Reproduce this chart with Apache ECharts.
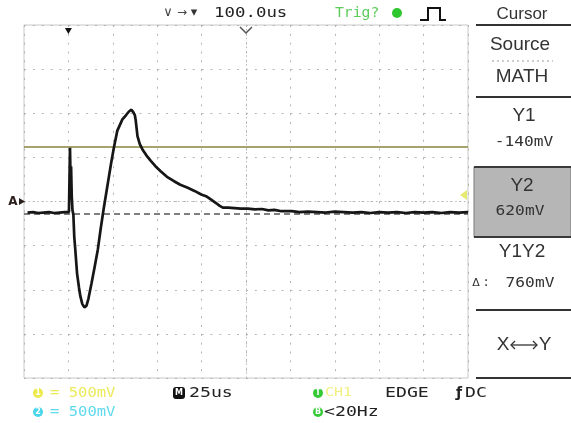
<!DOCTYPE html>
<html><head><meta charset="utf-8">
<script src="https://cdn.jsdelivr.net/npm/echarts@6/dist/echarts.min.js"></script>
<style>html,body{margin:0;padding:0;background:#fff}#c{width:571px;height:423px}</style>
</head><body><div id="c"></div>
<script>
// time (µs, trigger at 0; screen centre at 100.0us) and voltage (V)
const timeUs = [-23, -20, -17, -14, -11, -8, -5, -2, 0.3, 0.9, 1.2, 1.5, 1.9, 2.3, 2.8, 3.3, 3.9, 4.9, 6.0, 6.7,
  7.8, 9.0, 10.2, 11.3, 13.0, 14.8, 16.6, 18.1, 19.8, 21.9, 24.1, 25.6, 27.5, 30.4, 32.5, 34.1, 35.5, 36.6, 37.4, 37.9,
  38.9, 40.2, 41.7, 44.0, 46.4, 49.0, 52.1, 55.5, 59.5, 63.0, 67.2, 71.0, 74.8, 77.5, 80.4, 83.3, 85.2, 87.0, 90.0, 93.5,
  97, 101, 105, 109, 112.6, 116, 120, 125.8, 130, 135, 140, 145, 150, 155, 160, 165, 170, 175, 180, 185,
  190, 195, 200, 205, 210, 215, 220, 225];
const voltsV = [-0.125, -0.12, -0.13, -0.125, -0.12, -0.13, -0.125, -0.12, -0.12, 0.61, 0.25, 0.40, 0.05, -0.10, -0.15, -0.40, -0.55, -0.82, -0.98, -1.07,
  -1.16, -1.20, -1.18, -1.10, -0.93, -0.74, -0.54, -0.32, -0.09, 0.17, 0.44, 0.61, 0.80, 0.93, 0.98, 1.02, 1.04, 1.01, 0.98, 0.92,
  0.74, 0.65, 0.59, 0.52, 0.46, 0.40, 0.34, 0.28, 0.23, 0.19, 0.155, 0.12, 0.08, 0.06, 0.02, -0.02, -0.05, -0.07, -0.07, -0.075,
  -0.08, -0.08, -0.09, -0.085, -0.10, -0.095, -0.11, -0.11, -0.12, -0.115, -0.12, -0.125, -0.115, -0.12, -0.125, -0.12, -0.13, -0.12, -0.125, -0.12,
  -0.13, -0.12, -0.125, -0.12, -0.13, -0.12, -0.125, -0.12];
const cursorY1 = -0.14;   // V
const cursorY2 = 0.62;    // V
const timeMin = -25, timeMax = 225, timePerDiv = 25;
const voltMin = -2, voltMax = 2, voltPerDiv = 0.5;
const triggerTime = 0, centreTime = 100;

const trace = timeUs.map((t, i) => [t, voltsV[i]]);
const chart = echarts.init(document.getElementById('c'), null, {renderer: 'canvas'});
const mono = 'DejaVu Sans Mono';
const sans = 'Liberation Sans';
function mtext(x, y, s, color, opts) {
  opts = opts || {};
  return {type: 'text', x: x, y: y, scaleX: opts.sx || 1.2, z: 10,
    style: {text: s, fill: color, font: (opts.w || 'normal') + ' ' + (opts.fs || 14.5) + 'px "' + (opts.ff || mono) + '"',
      textAlign: opts.align || 'left', textVerticalAlign: 'middle'}};
}
function stext(x, y, s, fs) {
  return {type: 'text', x: x, y: y, z: 10,
    style: {text: s, fill: '#333', font: fs + 'px "' + sans + '"', textAlign: 'center', textVerticalAlign: 'middle'}};
}
function hline(x1, x2, y, w, color, dash) {
  return {type: 'line', z: 10, shape: {x1: x1, y1: y, x2: x2, y2: y},
    style: {stroke: color || '#333', lineWidth: w || 2, lineDash: dash || null}};
}
function dot(x, y, r, color, label) {
  return [{type: 'circle', z: 10, shape: {cx: x, cy: y, r: r}, style: {fill: color}},
    {type: 'text', z: 11, x: x, y: y, style: {text: label, fill: '#fff', font: 'bold 8px "DejaVu Sans"', textAlign: 'center', textVerticalAlign: 'middle'}}];
}
const gridDashX = [2, 44.4 / 5 - 2];
const gridDashY = [2, 44.125 / 5 - 2];
const option = {
  animation: false,
  backgroundColor: '#ffffff',
  grid: {left: 24, top: 25, width: 444, height: 353, show: true, borderColor: '#c8c8c8', borderWidth: 1},
  xAxis: {type: 'value', min: timeMin, max: timeMax, interval: timePerDiv,
    axisLine: {show: false}, axisTick: {show: false}, axisLabel: {show: false},
    splitLine: {show: true, lineStyle: {color: '#b4b4b4', width: 1, type: gridDashY}}},
  yAxis: {type: 'value', min: voltMin, max: voltMax, interval: voltPerDiv,
    axisLine: {show: false}, axisTick: {show: false}, axisLabel: {show: false},
    splitLine: {show: true, lineStyle: {color: '#b4b4b4', width: 1, type: gridDashX}}},
  series: [
    {type: 'line', data: [], silent: true, z: 1,
      markLine: {silent: true, symbol: 'none', label: {show: false},
        data: [
          {yAxis: 0, lineStyle: {color: '#b8b8b8', width: 1, type: [1.5, 2.9]}},
          {xAxis: centreTime, lineStyle: {color: '#b8b8b8', width: 1, type: [1.5, 2.9]}}
        ]}},
    {type: 'line', data: trace, showSymbol: false, z: 5,
      lineStyle: {color: '#161616', width: 2.7}},
    {type: 'line', data: [], z: 4,
      markLine: {silent: true, symbol: 'none', label: {show: false},
        data: [
          {yAxis: cursorY2, lineStyle: {color: '#87863e', width: 1.6, type: 'solid'}},
          {yAxis: cursorY1, lineStyle: {color: '#555555', width: 1.6, type: [6, 4]}}
        ]}}
  ]
};
chart.setOption(option);

const trigX = chart.convertToPixel({xAxisIndex: 0}, triggerTime);
const centreX = chart.convertToPixel({xAxisIndex: 0}, centreTime);
const zeroY = chart.convertToPixel({yAxisIndex: 0}, 0);

let g = [];
// top bar
g.push({type: 'text', x: 168, y: 13, z: 10, style: {text: '∨', fill: '#444', font: '13px "DejaVu Sans"', textAlign: 'center', textVerticalAlign: 'middle'}});
g.push({type: 'text', x: 182, y: 13, z: 10, style: {text: '→', fill: '#444', font: '12px "DejaVu Sans"', textAlign: 'center', textVerticalAlign: 'middle'}});
g.push({type: 'text', x: 194, y: 13, z: 10, style: {text: '▾', fill: '#333', font: '13px "DejaVu Sans"', textAlign: 'center', textVerticalAlign: 'middle'}});
g.push(mtext(214, 13, '100.0us', '#222', {fs: 14.5, sx: 1.2}));
g.push(mtext(335, 13, 'Trig?', '#5ccc5c', {fs: 14, sx: 1.05}));
g.push({type: 'circle', z: 10, shape: {cx: 397, cy: 13, r: 5}, style: {fill: '#2ec72e'}});
g.push({type: 'polyline', z: 10, shape: {points: [[420, 20], [428, 20], [428, 8], [440, 8], [440, 20], [446, 20]]}, style: {stroke: '#111', lineWidth: 2, fill: null}});
// plot markers
g.push({type: 'polygon', z: 10, shape: {points: [[trigX - 3.5, 28], [trigX + 3.5, 28], [trigX, 34]]}, style: {fill: '#111'}});
g.push({type: 'polyline', z: 10, shape: {points: [[centreX - 6, 27], [centreX, 33], [centreX + 6, 27]]}, style: {stroke: '#555', lineWidth: 1.5, fill: null}});
g.push({type: 'text', x: 13, y: zeroY, z: 10, style: {text: 'A', fill: '#2a1f1a', font: 'bold 12px "DejaVu Sans"', textAlign: 'center', textVerticalAlign: 'middle'}});
g.push({type: 'polygon', z: 10, shape: {points: [[19, zeroY - 3.5], [25, zeroY], [19, zeroY + 3.5]]}, style: {fill: '#2a1f1a'}});
g.push({type: 'polygon', z: 10, shape: {points: [[467, 190], [467, 200], [460, 195]]}, style: {fill: '#e6ea70'}});
// right menu
g.push(stext(522, 14, 'Cursor', 17));
g.push(hline(476, 571, 25, 2));
g.push(stext(520, 45, 'Source', 19));
g.push(hline(492, 553, 61, 1, '#999', [2, 3]));
g.push(stext(522, 77, 'MATH', 19));
g.push(hline(476, 571, 97, 2));
g.push(stext(524, 116, 'Y1', 19));
g.push(mtext(524, 142, '-140mV', '#333', {align: 'center', fs: 13.5, sx: 1.2}));
g.push({type: 'rect', z: 9, shape: {x: 474, y: 167, width: 97, height: 70}, style: {fill: '#b6b6b6', stroke: '#7a7a7a', lineWidth: 1}});
g.push(hline(474, 571, 167, 2, '#3a3a3a'));
g.push(hline(474, 571, 237, 2, '#3a3a3a'));
g.push(stext(522, 186, 'Y2', 19));
g.push(mtext(520, 211, '620mV', '#333', {align: 'center', fs: 13.5, sx: 1.2}));
g.push(stext(522, 252, 'Y1Y2', 19));
g.push({type: 'text', x: 476, y: 283, z: 10, style: {text: 'Δ', fill: '#333', font: '11px "DejaVu Sans"', textAlign: 'center', textVerticalAlign: 'middle'}});
g.push({type: 'text', x: 486, y: 283, z: 10, style: {text: ':', fill: '#333', font: '12px "DejaVu Sans Mono"', textAlign: 'center', textVerticalAlign: 'middle'}});
g.push(mtext(530, 283, '760mV', '#333', {align: 'center', fs: 13.5, sx: 1.2}));
g.push(hline(476, 571, 310, 2));
g.push(stext(503, 345, 'X', 19));
g.push(hline(511, 537, 345, 1.3, '#333'));
g.push({type: 'polyline', z: 10, shape: {points: [[515, 341], [511, 345], [515, 349]]}, style: {stroke: '#333', lineWidth: 1.3, fill: null}});
g.push({type: 'polyline', z: 10, shape: {points: [[533, 341], [537, 345], [533, 349]]}, style: {stroke: '#333', lineWidth: 1.3, fill: null}});
g.push(stext(545, 345, 'Y', 19));
g.push(hline(476, 571, 378, 2));
// bottom status
g = g.concat(dot(38, 393, 5, '#ece94a', '1'));
g.push(mtext(50, 393, '= 500mV', '#ecea5a', {fs: 13.5, sx: 1.15}));
g = g.concat(dot(38, 412, 5, '#49d6ea', '2'));
g.push(mtext(50, 412, '= 500mV', '#5fd9ee', {fs: 13.5, sx: 1.15}));
g.push({type: 'rect', z: 10, shape: {x: 173, y: 387, width: 12, height: 12, r: 3}, style: {fill: '#111'}});
g.push({type: 'text', x: 179, y: 393, z: 11, style: {text: 'M', fill: '#fff', font: 'bold 8px "DejaVu Sans"', textAlign: 'center', textVerticalAlign: 'middle'}});
g.push(mtext(189, 393, '25us', '#222', {fs: 14, sx: 1.3}));
g = g.concat(dot(318, 393, 5, '#35c935', 'T'));
g.push(mtext(325, 393, 'CH1', '#f2ef80', {fs: 13, sx: 1.15}));
g.push(mtext(385, 393, 'EDGE', '#222', {fs: 14, sx: 1.3}));
g.push({type: 'text', x: 456, y: 393, z: 10, style: {text: 'ƒ', fill: '#222', font: 'bold 14px "DejaVu Sans"', textAlign: 'left', textVerticalAlign: 'middle'}});
g.push(mtext(465, 393, 'DC', '#222', {fs: 14, sx: 1.3}));
g = g.concat(dot(318, 412, 5, '#35c935', 'B'));
g.push(mtext(324, 412, '<20Hz', '#222', {fs: 14, sx: 1.3}));
chart.setOption({graphic: g});
</script>
</body></html>
